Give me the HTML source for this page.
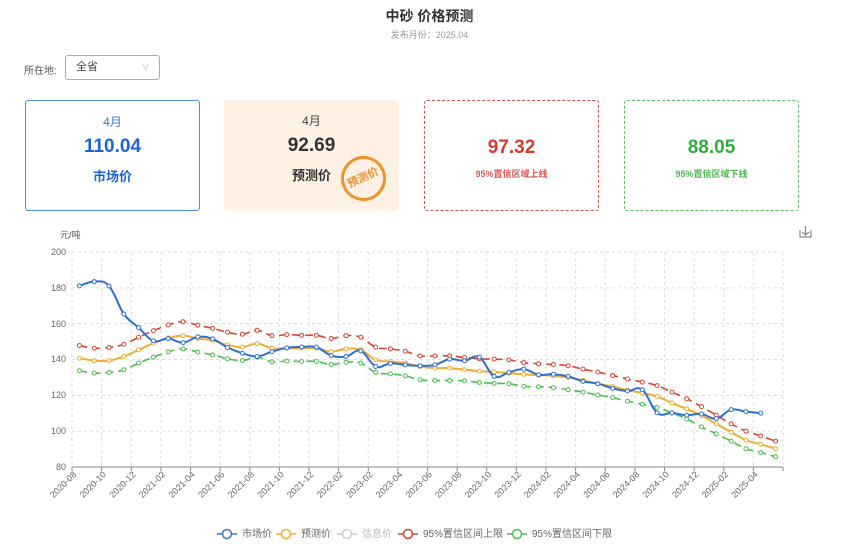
<!DOCTYPE html>
<html><head><meta charset="utf-8"><style>
body{margin:0;background:#fff;font-family:"Liberation Sans","Noto Sans CJK SC",sans-serif;width:859px;height:557px;overflow:hidden;position:relative}
.a{position:absolute}
.card{position:absolute;top:100px;width:175px;height:111px;box-sizing:border-box;border-radius:3px;text-align:center}
</style></head><body>
<div class="a" style="left:0;width:859px;top:6px;text-align:center;font-size:14px;font-weight:bold;color:#333">中砂 价格预测</div>
<div class="a" style="left:0;width:859px;top:28px;text-align:center;font-size:9px;color:#999">发布月份：2025.04</div>
<div class="a" style="left:24px;top:62px;font-size:10px;color:#555">所在地:</div>
<div class="a" style="left:65px;top:55px;width:95px;height:25px;border:1px solid #7fb2ee;border-radius:3px;box-sizing:border-box;font-size:11px;color:#444;line-height:23px;padding-left:10px">全省<span style="position:absolute;right:9px;top:0;color:#bbb;font-size:9px">∨</span></div>
<div class="card" style="left:25px;border:1px solid #4a8ee0">
<div style="margin-top:12px;font-size:12px;color:#3b78d0">4月</div>
<div style="margin-top:6px;font-size:19px;font-weight:bold;color:#1e63d6">110.04</div>
<div style="margin-top:8px;font-size:13px;font-weight:bold;color:#1e63d6">市场价</div></div>
<div class="card" style="left:224px;background:#fdf1e3">
<div style="margin-top:12px;font-size:12px;color:#444">4月</div>
<div style="margin-top:6px;font-size:19px;font-weight:bold;color:#333">92.69</div>
<div style="margin-top:8px;font-size:13px;font-weight:bold;color:#333">预测价</div>
<div style="position:absolute;left:117px;top:56px;width:45px;height:45px;border:3px solid #f0912a;border-radius:50%;box-sizing:border-box;color:#f0912a;font-size:11px;font-weight:bold;line-height:39px;transform:rotate(-25deg)">预测价</div></div>
<div class="card" style="left:424px;border:1px dashed #d9534f">
<div style="margin-top:36px;font-size:19px;font-weight:bold;color:#d93a2b">97.32</div>
<div style="margin-top:8px;font-size:9px;font-weight:bold;color:#d9534f">95%置信区域上线</div></div>
<div class="card" style="left:624px;border:1px dashed #5cc05c">
<div style="margin-top:36px;font-size:19px;font-weight:bold;color:#2fae3a">88.05</div>
<div style="margin-top:8px;font-size:9px;font-weight:bold;color:#4cb84c">95%置信区域下线</div></div>
<svg class="a" style="left:0;top:0" width="859" height="557" id="s">
<text x="60" y="238" font-size="9" fill="#555">元/吨</text>
<g stroke="#888" fill="none" stroke-width="1.2"><path d="M800 230v7h11v-7M805.5 226v9M802 232l3.5 3 3.5-3"/></g>
<g font-size="9" fill="#666" text-anchor="end">
<text x="66" y="255">200</text><text x="66" y="327">160</text><text x="66" y="291">180</text><text x="66" y="362">140</text><text x="66" y="398">120</text><text x="66" y="434">100</text><text x="66" y="470">80</text></g>
<g id="grid" stroke="#ddd" stroke-dasharray="3,3"></g>
<line x1="72" y1="467" x2="783" y2="467" stroke="#888"/>
<g id="xl" font-size="9" fill="#666" text-anchor="end">
<text transform="translate(77,475) rotate(-45)">2020-08</text>
<text transform="translate(106.6,475) rotate(-45)">2020-10</text>
<text transform="translate(136.3,475) rotate(-45)">2020-12</text>
<text transform="translate(165.9,475) rotate(-45)">2021-02</text>
<text transform="translate(195.5,475) rotate(-45)">2021-04</text>
<text transform="translate(225.1,475) rotate(-45)">2021-06</text>
<text transform="translate(254.8,475) rotate(-45)">2021-08</text>
<text transform="translate(284.4,475) rotate(-45)">2021-10</text>
<text transform="translate(314,475) rotate(-45)">2021-12</text>
<text transform="translate(343.6,475) rotate(-45)">2022-02</text>
<text transform="translate(373.3,475) rotate(-45)">2023-02</text>
<text transform="translate(402.9,475) rotate(-45)">2023-04</text>
<text transform="translate(432.5,475) rotate(-45)">2023-06</text>
<text transform="translate(462.1,475) rotate(-45)">2023-08</text>
<text transform="translate(491.8,475) rotate(-45)">2023-10</text>
<text transform="translate(521.4,475) rotate(-45)">2023-12</text>
<text transform="translate(551,475) rotate(-45)">2024-02</text>
<text transform="translate(580.6,475) rotate(-45)">2024-04</text>
<text transform="translate(610.3,475) rotate(-45)">2024-06</text>
<text transform="translate(639.9,475) rotate(-45)">2024-08</text>
<text transform="translate(669.5,475) rotate(-45)">2024-10</text>
<text transform="translate(699.1,475) rotate(-45)">2024-12</text>
<text transform="translate(728.8,475) rotate(-45)">2025-02</text>
<text transform="translate(758.4,475) rotate(-45)">2025-04</text>
</g>
<g id="ser"></g>
<g font-size="10" fill="#666">
<path d="M217 534h20" stroke="#3a78d4" stroke-width="1.5"/><circle cx="227" cy="534" r="4.5" fill="#fff" stroke="#3a78d4" stroke-width="1.5"/><text x="242" y="537">市场价</text>
<path d="M276 534h20" stroke="#f0ad30" stroke-width="1.5"/><circle cx="286" cy="534" r="4.5" fill="#fff" stroke="#f0ad30" stroke-width="1.5"/><text x="301" y="537">预测价</text>
<path d="M337 534h20" stroke="#ccc" stroke-width="1.5"/><circle cx="347" cy="534" r="4.5" fill="#fff" stroke="#ccc" stroke-width="1.5"/><text x="362" y="537" fill="#bbb">信息价</text>
<path d="M398 534h20" stroke="#d9432f" stroke-width="1.5"/><circle cx="408" cy="534" r="4.5" fill="#fff" stroke="#d9432f" stroke-width="1.5"/><text x="423" y="537">95%置信区间上限</text>
<path d="M507 534h20" stroke="#4cbf4c" stroke-width="1.5"/><circle cx="517" cy="534" r="4.5" fill="#fff" stroke="#4cbf4c" stroke-width="1.5"/><text x="532" y="537">95%置信区间下限</text>
</g>
</svg>
<script>
var NS="http://www.w3.org/2000/svg",w=711/48;
function el(p,t,a,txt){var e=document.createElementNS(NS,t);for(var k in a)e.setAttribute(k,a[k]);if(txt)e.textContent=txt;document.getElementById(p).appendChild(e);return e;}
function X(i){return 72+w*(i+.5)}function Y(v){return 252+(200-v)*1.7917}
for(var v=80;v<=200;v+=20)el("grid","line",{x1:72,x2:783,y1:Y(v),y2:Y(v)});
for(var k=0;k<=24;k++){var x=72+2*w*k;el("grid","line",{x1:x,x2:x,y1:252,y2:467});el("grid","line",{x1:x,x2:x,y1:467,y2:471,stroke:"#888","stroke-dasharray":"none"});}
var D={
b:[181.1,183.5,181,165.4,157.8,150.4,151.7,149.4,152.6,151.5,146.7,143.5,141.7,144.4,146.5,147,146.9,142.2,141.7,144.8,136.1,137.8,137,136.5,137,140.2,139.3,141.3,130.6,132.8,134.6,131.5,131.8,130.6,127.8,126.5,123.9,122.4,123.1,110.2,110.2,108.9,109.6,107,112,110.9,110.04],
o:[140.7,139.4,139.4,141.7,145.4,149.1,151.9,153.3,151.7,150.6,148.1,146.9,148.9,146.3,146.3,146.3,146.3,144.4,145.9,145.4,139.8,138.9,138,136.1,135.2,135.2,134.3,133.5,133.1,132.4,131.7,131.3,130.9,130,128.3,126.5,125,122.8,121.3,119.4,115.7,112.4,108.7,104.1,99.4,95,92.69,90.2],
r:[147.8,146.3,146.7,148.5,152.4,156.1,159.3,161.1,159.1,157.4,155.2,154.1,156.3,153.3,153.9,153.5,153.5,151.7,153.3,152.4,146.9,145.9,144.6,142,142,142,141.1,140.4,140.2,139.8,138.3,137.6,137.2,136.5,134.6,133,131.1,129.1,127.4,125.4,121.8,118.1,113.7,108.9,104.1,100,97.32,94.4],
g:[133.7,132.4,132.8,134.3,138,141.3,144.3,145.9,144.1,142.6,140.4,139.4,141.3,138.7,139.1,138.9,138.9,137.2,138.5,138,132.8,132,130.9,128.7,128.3,128.3,128.1,127.2,126.7,126.5,125,124.8,124.3,123.1,121.8,120.2,118.7,116.7,115,113.3,110.2,106.8,102.4,98.5,94.4,90.2,88.05,85.7]};
var C={g:"#4cbf4c",r:"#d9432f",o:"#f0ad30",b:"#2f6fd0"};
["g","r","o","b"].forEach(function(s){var a=D[s],P=a.map(function(v,i){return[X(i),Y(v)]}),d="M"+P[0];
for(var i=0;i<P.length-1;i++){var p0=P[i-1]||P[i],p1=P[i],p2=P[i+1],p3=P[i+2]||p2,t=.2;
d+="C"+(p1[0]+(p2[0]-p0[0])*t)+","+(p1[1]+(p2[1]-p0[1])*t)+" "+(p2[0]-(p3[0]-p1[0])*t)+","+(p2[1]-(p3[1]-p1[1])*t)+" "+p2;}
var at={d:d,fill:"none",stroke:C[s],"stroke-width":s=="b"||s=="o"?2:1.6};if(s=="g"||s=="r")at["stroke-dasharray"]="8,5";
el("ser","path",at);P.forEach(function(p){el("ser","circle",{cx:p[0],cy:p[1],r:2,fill:"#fff",stroke:C[s],"stroke-width":1});});});
</script>
</body></html>
